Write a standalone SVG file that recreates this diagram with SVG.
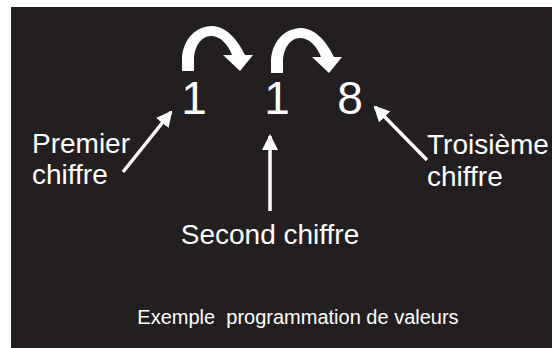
<svg xmlns="http://www.w3.org/2000/svg" width="552" height="348" viewBox="0 0 552 348">
  <style>
    .lbl { font-family: "Liberation Sans", Arial, Helvetica, sans-serif; fill: #ffffff; }
    .digit { font-size: 46px; text-anchor: middle; }
    .name { font-size: 28px; }
    .caption { font-size: 20px; text-anchor: middle; white-space: pre; }
    .ptr { stroke: #ffffff; stroke-width: 3.5; fill: none; marker-end: url(#head); }
    .curl { fill: #ffffff; }
  </style>
  <defs>
    <marker id="head" viewBox="0 0 16 16" refX="14" refY="8" markerWidth="16" markerHeight="16" markerUnits="userSpaceOnUse" orient="auto">
      <path d="M0,0 L16,8 L0,16 Z" fill="#ffffff"/>
    </marker>
    <!-- thick hooked arrow that jumps from one digit to the next -->
    <path id="hop" d="M182,71 L182,60 C182,40 196,26 212,26 C226,26 238,40 245,55 L253,55 L240,71 L223,55 L232,55 C228,44 220,36 211,36 C201,36 194,47 194,60 L194,71 Z"/>
  </defs>

  <rect x="11" y="7" width="541" height="341" fill="#231f20"/>

  <g id="hop-1-2" class="curl"><use href="#hop"/></g>
  <g id="hop-2-3" class="curl"><use href="#hop" transform="translate(89,2)"/></g>

  <g id="digit-1"><text class="lbl digit" x="194" y="114">1</text></g>
  <g id="digit-2"><text class="lbl digit" x="277" y="114">1</text></g>
  <g id="digit-3"><text class="lbl digit" x="350" y="114">8</text></g>

  <g id="label-premier">
    <text class="lbl name" x="32" y="153">Premier</text>
    <text class="lbl name" x="32" y="184">chiffre</text>
  </g>
  <g id="label-second">
    <text class="lbl name" x="270" y="244" text-anchor="middle">Second chiffre</text>
  </g>
  <g id="label-troisieme">
    <text class="lbl name" x="427" y="154">Troisième</text>
    <text class="lbl name" x="427" y="186">chiffre</text>
  </g>

  <g id="connectors">
    <line class="ptr" x1="123" y1="172" x2="171" y2="112"/>
    <line class="ptr" x1="270" y1="211" x2="270" y2="136"/>
    <line class="ptr" x1="427" y1="160" x2="375" y2="107"/>
  </g>

  <g id="caption"><text class="lbl caption" x="298" y="324" xml:space="preserve">Exemple  programmation de valeurs</text></g>
</svg>
